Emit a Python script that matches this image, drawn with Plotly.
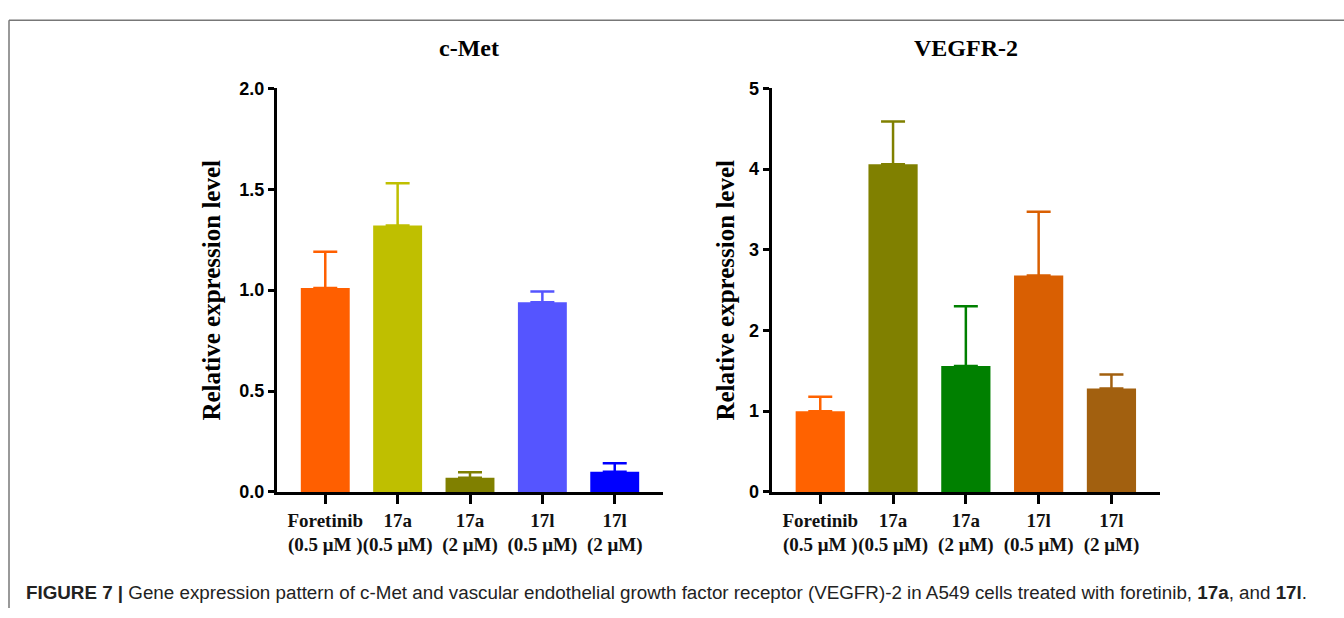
import plotly.graph_objects as go

# ---- data ----
categories = ["Foretinib<br>(0.5 μM )", "17a<br>(0.5 μM)", "17a<br>(2 μM)", "17l<br>(0.5 μM)", "17l<br>(2 μM)"]
cmet_mean = [1.01, 1.32, 0.07, 0.94, 0.10]
cmet_err = [0.18, 0.21, 0.027, 0.053, 0.042]
vegfr_mean = [1.0, 4.06, 1.56, 2.68, 1.28]
vegfr_err = [0.18, 0.53, 0.74, 0.79, 0.175]
cmet_colors = ["#FF5F00", "#BFBF00", "#808000", "#5555FF", "#0000FF"]
vegfr_colors = ["#FF6200", "#808000", "#008000", "#D95F02", "#A2600F"]
cmet_ticks = [0, 0.5, 1.0, 1.5, 2.0]
cmet_ticktext = ["0.0", "0.5", "1.0", "1.5", "2.0"]
vegfr_ticks = [0, 1, 2, 3, 4, 5]

W, H = 1344, 618
SERIF = "Liberation Serif, Times New Roman, serif"
SANS = "Liberation Sans, Arial, sans-serif"

def px_x(p):
    return p / W

def px_y(p):
    return 1 - p / H

fig = go.Figure()
idx = list(range(len(categories)))
for i in idx:
    fig.add_trace(go.Bar(
        x=[i], y=[cmet_mean[i]], width=0.676,
        marker=dict(color=cmet_colors[i], line=dict(width=0)),
        error_y=dict(type="data", symmetric=False, array=[cmet_err[i]], arrayminus=[0],
                     color=cmet_colors[i], thickness=2.5, width=12),
        xaxis="x", yaxis="y", showlegend=False))
    fig.add_trace(go.Bar(
        x=[i], y=[vegfr_mean[i]], width=0.676,
        marker=dict(color=vegfr_colors[i], line=dict(width=0)),
        error_y=dict(type="data", symmetric=False, array=[vegfr_err[i]], arrayminus=[0],
                     color=vegfr_colors[i], thickness=2.5, width=12),
        xaxis="x2", yaxis="y2", showlegend=False))

xcommon = dict(tickmode="array", tickvals=idx, ticktext=categories, range=[-0.667, 4.667],
               showline=True, linecolor="black", linewidth=3, ticks="outside", ticklen=9,
               tickwidth=3, tickcolor="black", showgrid=False, zeroline=False, tickangle=0,
               tickfont=dict(family=SERIF, size=19, color="#111", weight="bold"), fixedrange=True)
ycommon = dict(showline=True, linecolor="black", linewidth=3, ticks="outside", ticklen=6,
               tickwidth=3, tickcolor="black", showgrid=False, zeroline=False,
               tickfont=dict(family=SANS, size=18, color="black", weight="bold"), fixedrange=True)

ydom = [px_y(498), px_y(81)]
fig.update_layout(
    width=W, height=H, margin=dict(l=0, r=0, t=0, b=0),
    paper_bgcolor="white", plot_bgcolor="white", barmode="overlay",
    xaxis=dict(domain=[px_x(277), px_x(663)], anchor="y", **xcommon),
    yaxis=dict(domain=ydom, anchor="x", range=[0, 2], tickvals=cmet_ticks, ticktext=cmet_ticktext, **ycommon),
    xaxis2=dict(domain=[px_x(771.7), px_x(1160)], anchor="y2", **xcommon),
    yaxis2=dict(domain=ydom, anchor="x2", range=[0, 5], tickvals=vegfr_ticks, **ycommon),
)

ann = [
    dict(text="c-Met", x=px_x(469), y=px_y(39), font=dict(family=SERIF, size=24, color="black", weight="bold")),
    dict(text="VEGFR-2", x=px_x(966), y=px_y(39), font=dict(family=SERIF, size=24, color="black", weight="bold")),
    dict(text="Relative expression level", x=px_x(212), y=px_y(290), textangle=-90,
         font=dict(family=SERIF, size=25, color="black", weight="bold")),
    dict(text="Relative expression level", x=px_x(726), y=px_y(290), textangle=-90,
         font=dict(family=SERIF, size=25, color="black", weight="bold")),
]
for a in ann:
    fig.add_annotation(xref="paper", yref="paper", showarrow=False, xanchor="center", yanchor="middle", **a)

fig.add_annotation(xref="paper", yref="paper", showarrow=False, xanchor="left", yanchor="middle",
                   x=px_x(24), y=px_y(602),
                   text="<b>FIGURE 7 |</b> Gene expression pattern of c-Met and vascular endothelial growth factor receptor (VEGFR)-2 in A549 cells treated with foretinib, <b>17a</b>, and <b>17l</b>.",
                   font=dict(family=SANS, size=18.8, color="#222"))

# frame lines
fig.add_shape(type="line", xref="paper", yref="paper", x0=px_x(9), x1=1, y0=px_y(10.5), y1=px_y(10.5),
              line=dict(color="#777", width=1.5))
fig.add_shape(type="line", xref="paper", yref="paper", x0=px_x(9), x1=px_x(9), y0=px_y(10.5), y1=0,
              line=dict(color="#777", width=1.5))

fig.write_html("out.html")
